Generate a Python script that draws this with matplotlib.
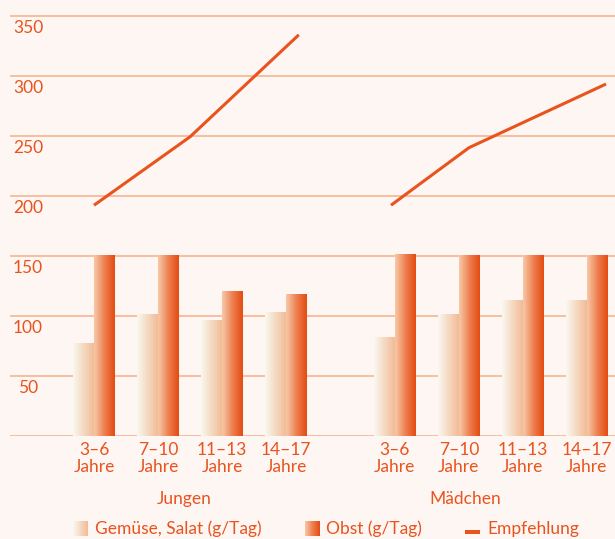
import numpy as np
import matplotlib
matplotlib.use("Agg")
import matplotlib.pyplot as plt
from matplotlib.colors import LinearSegmentedColormap

plt.rcParams['font.family'] = ['Lato', 'DejaVu Sans']

# Verzehr und Empfehlung nach Alter und Geschlecht
altersgruppen = ["3–6\nJahre", "7–10\nJahre", "11–13\nJahre", "14–17\nJahre"]
gemuese_jungen = [77, 101, 96, 103]
obst_jungen = [150, 150, 120, 118]
gemuese_maedchen = [82, 101, 113, 113]
obst_maedchen = [151, 150, 150, 150]
empf_jungen = [192, 249, 334]
empf_maedchen = [192, 240, 293]

# Lage der Gruppen auf der x-Achse
pos_jungen = np.arange(4)
pos_maedchen = np.arange(4) + 4.7
empf_x_jungen = [0.0, 1.5, 3.2]
empf_x_maedchen = [4.64, 5.86, 8.0]

orange = '#e8531e'
hintergrund = '#fef6f2'
gitter = '#f6b48f'
fs = 12.5

cm_gemuese = LinearSegmentedColormap.from_list('gem', ['#f9f8ef', '#f1bc96'])
cm_obst = LinearSegmentedColormap.from_list('obst', ['#f7c9a8', '#ee8050', '#e44c12'])
verlauf = np.linspace(0, 1, 64).reshape(1, -1)

fig = plt.figure(figsize=(6.15, 5.39), dpi=100, facecolor=hintergrund)
ax = fig.add_axes([10 / 615, (539 - 435.7) / 539, 605 / 615, 435.7 / 539])
ax.set_facecolor(hintergrund)
for s in ax.spines.values():
    s.set_visible(False)
ax.set_xticks([])
ax.set_yticks([])

for y in range(0, 351, 50):
    ax.axhline(y, color=gitter, lw=1.2, zorder=1)
    if y > 0:
        ax.text(-1.03, y - 10, str(y), color=orange, fontsize=fs,
                ha='center', va='center')

breite = 0.32


def verlaufsbalken(x, werte, cmap):
    balken = ax.bar(x, werte, width=breite, color='none', zorder=2)
    for p in balken:
        x0, w, h = p.get_x(), p.get_width(), p.get_height()
        ax.imshow(verlauf, cmap=cmap, aspect='auto', zorder=2,
                  extent=[x0, x0 + w, 0, h], interpolation='bilinear')


verlaufsbalken(pos_jungen - 0.165, gemuese_jungen, cm_gemuese)
verlaufsbalken(pos_jungen + 0.165, obst_jungen, cm_obst)
verlaufsbalken(pos_maedchen - 0.165, gemuese_maedchen, cm_gemuese)
verlaufsbalken(pos_maedchen + 0.165, obst_maedchen, cm_obst)
ax.set_xlim(-1.3125, 8.14)
ax.set_ylim(0, 363)

ax.plot(empf_x_jungen, empf_jungen, color=orange, lw=2.2, zorder=3,
        solid_capstyle='butt')
ax.plot(empf_x_maedchen, empf_maedchen, color=orange, lw=2.2, zorder=3,
        solid_capstyle='butt')

# Achsenbeschriftung unter den Balken
for x, lab in zip(np.concatenate([pos_jungen, pos_maedchen]), altersgruppen * 2):
    ax.text(x, -5, lab, color=orange, fontsize=fs, ha='center', va='top',
            linespacing=1.1, clip_on=False)

fig.text(184 / 615, 1 - 499 / 539, "Jungen", color=orange, fontsize=fs,
         ha='center', va='center')
fig.text(465 / 615, 1 - 499 / 539, "Mädchen", color=orange, fontsize=fs,
         ha='center', va='center')

# Legende
for x0, cmap in [(73, cm_gemuese), (305, cm_obst)]:
    lax = fig.add_axes([x0 / 615, 1 - 536 / 539, 15 / 615, 15.5 / 539])
    lax.imshow(verlauf, cmap=cmap, aspect='auto', interpolation='bilinear')
    lax.axis('off')
lax = fig.add_axes([465 / 615, 1 - 534 / 539, 15 / 615, 4 / 539])
lax.set_facecolor(orange)
lax.set_xticks([])
lax.set_yticks([])
for s in lax.spines.values():
    s.set_visible(False)

fig.text(95 / 615, 1 - 529 / 539, "Gemüse, Salat (g/Tag)", color=orange,
         fontsize=fs, ha='left', va='center')
fig.text(326 / 615, 1 - 529 / 539, "Obst (g/Tag)", color=orange,
         fontsize=fs, ha='left', va='center')
fig.text(487 / 615, 1 - 529 / 539, "Empfehlung", color=orange,
         fontsize=fs, ha='left', va='center')

fig.savefig("out.png", dpi=100, facecolor=hintergrund)
